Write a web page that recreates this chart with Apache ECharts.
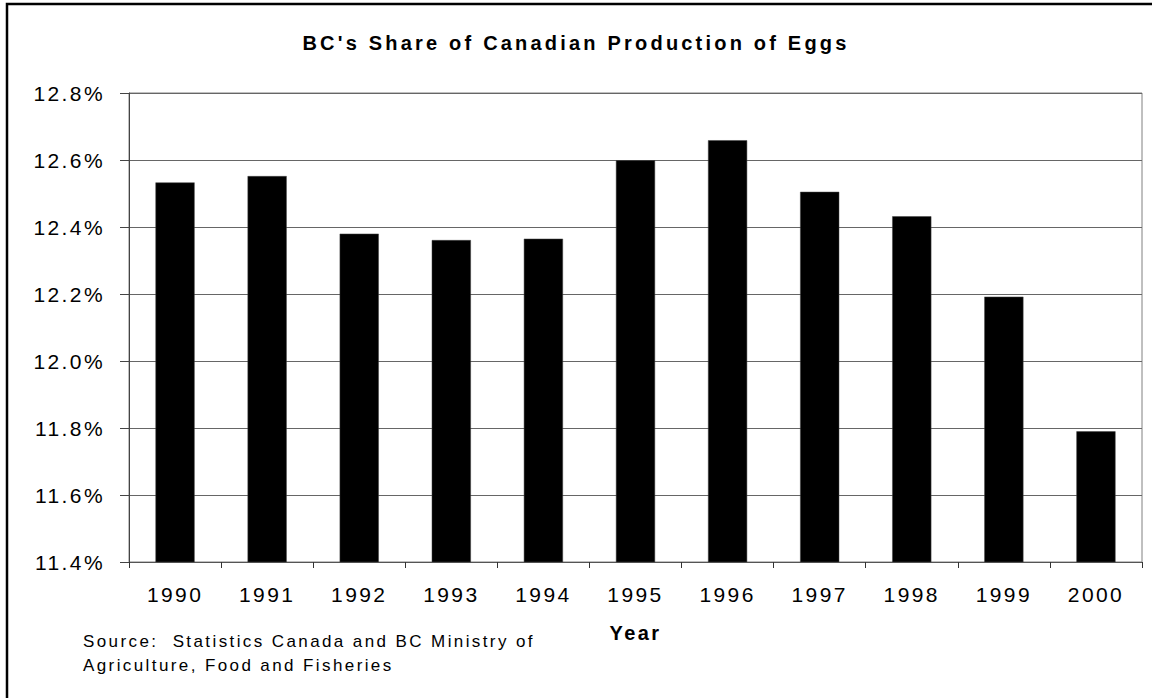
<!DOCTYPE html>
<html>
<head>
<meta charset="utf-8">
<script src="https://cdn.jsdelivr.net/npm/echarts@6/dist/echarts.min.js"></script>
<style>
html, body { margin: 0; padding: 0; background: #ffffff; }
#chart { width: 1152px; height: 698px; }
#chart text { letter-spacing: 2.4px; white-space: pre; }
</style>
</head>
<body>
<div id="chart"></div>
<script>
// ---- data ----
const years = ['1990', '1991', '1992', '1993', '1994', '1995', '1996', '1997', '1998', '1999', '2000'];
const bcShare = [12.533, 12.552, 12.380, 12.361, 12.365, 12.599, 12.659, 12.505, 12.432, 12.192, 11.79];
const yMin = 11.4;
const yMax = 12.8;
const yStep = 0.2;
const titleText = "BC's Share of Canadian Production of Eggs";
const xAxisTitle = 'Year';
const sourceLines = ['Source:  Statistics Canada and BC Ministry of', 'Agriculture, Food and Fisheries'];

const FONT = '"Liberation Sans", Arial, Helvetica, sans-serif';

const chart = echarts.init(document.getElementById('chart'), null, { renderer: 'svg' });

function widenTitle() {
  document.querySelectorAll('#chart text').forEach(t => {
    if (t.textContent === titleText) t.style.letterSpacing = '3.2px';
  });
}
chart.on('finished', widenTitle);

chart.setOption({
  animation: false,
  backgroundColor: '#ffffff',
  title: {
    text: titleText,
    left: 'center',
    top: 33,
    padding: 0,
    textStyle: { fontFamily: FONT, fontSize: 20, fontWeight: 'bold', color: '#000' }
  },
  grid: {
    left: 129, right: 10, top: 93, bottom: 136,
    show: true, borderColor: '#808080', borderWidth: 1, backgroundColor: '#ffffff',
    containLabel: false
  },
  xAxis: {
    type: 'category',
    data: years,
    name: xAxisTitle,
    nameLocation: 'middle',
    nameGap: 61,
    nameTextStyle: { fontFamily: FONT, fontSize: 20, fontWeight: 'bold', color: '#000' },
    axisLine: { lineStyle: { color: '#555', width: 1 } },
    axisTick: { show: true, length: 6, interval: 0, lineStyle: { color: '#333' } },
    axisLabel: { interval: 0, margin: 22, fontFamily: FONT, fontSize: 21, color: '#000' },
    splitLine: { show: false }
  },
  yAxis: {
    type: 'value',
    min: yMin,
    max: yMax,
    interval: yStep,
    axisLine: { show: true, lineStyle: { color: '#444', width: 1 } },
    axisTick: { show: true, length: 9, lineStyle: { color: '#444' } },
    axisLabel: {
      margin: 24, fontFamily: FONT, fontSize: 21, color: '#000',
      formatter: v => v.toFixed(1) + '%'
    },
    splitLine: { show: true, lineStyle: { color: '#666', width: 1 } }
  },
  series: [{
    type: 'bar',
    data: bcShare,
    barCategoryGap: '57.5%',
    itemStyle: { color: '#000000', borderColor: '#444', borderWidth: 0.5 }
  }],
  graphic: [
    {
      type: 'rect',
      silent: true,
      shape: { x: 7, y: 4, width: 1160, height: 710 },
      style: { fill: 'none', stroke: '#000', lineWidth: 2.5 }
    },
    {
      type: 'text',
      silent: true,
      x: 83,
      y: 653.5,
      style: {
        text: sourceLines.join('\n'),
        fontFamily: FONT, fontSize: 17, lineHeight: 24,
        fill: '#000', align: 'left', verticalAlign: 'middle'
      }
    }
  ]
});

widenTitle();
setTimeout(widenTitle, 0);
</script>
</body>
</html>
